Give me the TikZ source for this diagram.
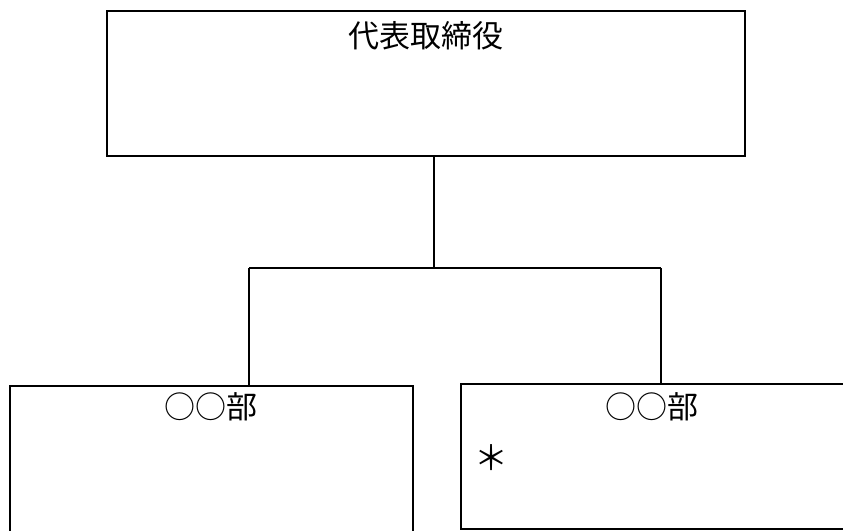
\documentclass[tikz,border=0pt]{standalone}
\usepackage{fontspec}
\newfontfamily\cjk{Noto Sans CJK JP}
\begin{document}
\begin{tikzpicture}[x=1pt,y=-1pt,
  box/.style={draw=black,line width=2.6pt,rectangle,inner sep=0pt,outer sep=0pt},
  conn/.style={draw=black,line width=2pt},
  lbl/.style={font=\cjk\fontsize{31}{36}\selectfont,inner sep=0pt}]
\useasboundingbox (0,0) rectangle (843,530);
\node[box,minimum width=638pt,minimum height=145pt] (ceo) at (426,83.5) {};
\node[lbl] (ceot) at (426,36) {代表取締役};
\node[box,minimum width=403pt,minimum height=200pt] (depta) at (211.5,486) {};
\node[box,minimum width=390pt,minimum height=145pt] (deptb) at (656,456.5) {};
\node[lbl] (deptat) at (211,407) {○○部};
\node[lbl] (deptbt) at (652,407) {○○部};
\node[lbl,font=\cjk\fontsize{34}{38}\selectfont] (ast) at (491,458) {＊};
\coordinate (j) at (434,268);
\coordinate (l) at (249,268);
\coordinate (r) at (661,268);
\draw[conn] (ceo.south -| j) -- (j);
\draw[conn] (l) -- (r);
\draw[conn] (l) -- (l |- depta.north);
\draw[conn] (r) -- (r |- deptb.north);
\end{tikzpicture}
\end{document}
